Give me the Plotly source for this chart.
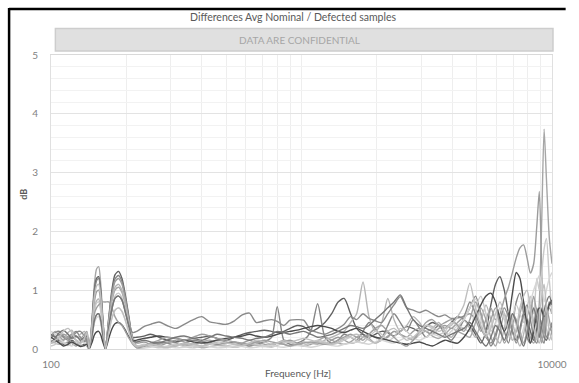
import plotly.graph_objects as go

# Frequency grid (Hz) shared by all sample curves
freq_hz = [
    100, 104, 108, 112, 117, 121, 126, 131, 136, 139, 142, 146, 149, 152, 155, 158, 161, 165, 170, 175, 180, 186, 192, 198, 205, 212, 220,
    235, 250, 270, 290, 315, 340, 370, 400, 430, 460, 500, 540, 580, 620, 660, 710, 760, 800, 850, 900, 960, 1020, 1090, 1160, 1240,
    1320, 1400, 1480, 1570, 1660, 1760, 1860, 1970, 2090, 2210, 2340, 2480, 2630, 2790, 2960, 3140, 3330, 3530, 3740, 3960, 4200, 4450,
    4700, 4950, 5200, 5450, 5700, 5950, 6200, 6450, 6700, 6950, 7200, 7450, 7700, 7950, 8200, 8450, 8700, 8900, 9100, 9300, 9500, 9750, 10000,
]

# Difference in dB for each defected sample
db_s01 = [
    0.2, 0.22, 0.15, 0.1, 0.12, 0.2, 0.15, 0.1, 0.15, 0.1, 0.0, 0.55, 1.1, 1.36, 1.4, 1.1, 0.55, 0.0, 0.42, 0.8, 1.0, 1.05, 0.96, 0.75, 0.42, 0.16, 0.05,
    0.05, 0.1, 0.08, 0.12, 0.1, 0.05, 0.08, 0.12, 0.15, 0.1, 0.06, 0.04, 0.08, 0.1, 0.12, 0.08, 0.05, 0.1, 0.15, 0.12, 0.08, 0.06, 0.1, 0.14,
    0.2, 0.15, 0.1, 0.08, 0.12, 0.2, 0.25, 0.18, 0.1, 0.15, 0.22, 0.3, 0.25, 0.2, 0.15, 0.25, 0.3, 0.22, 0.18, 0.25, 0.35, 0.3, 0.25,
    0.2, 0.45, 0.7, 0.5, 0.2, 0.05, 0.3, 0.6, 0.4, 0.15, 0.3, 0.6, 0.8, 0.5, 0.2, 0.1, 0.3, 0.8, 2.2, 3.74, 2.9, 1.9, 1.45,
]
db_s02 = [
    0.25, 0.2, 0.12, 0.08, 0.1, 0.15, 0.1, 0.05, 0.08, 0.05, 0.0, 0.5, 1.0, 1.2, 1.23, 0.98, 0.5, 0.0, 0.53, 1.0, 1.26, 1.32, 1.2, 0.92, 0.53, 0.2, 0.2,
    0.22, 0.25, 0.2, 0.15, 0.12, 0.15, 0.18, 0.2, 0.22, 0.18, 0.15, 0.2, 0.25, 0.28, 0.3, 0.32, 0.3, 0.28, 0.3, 0.35, 0.4, 0.38, 0.3, 0.35,
    0.45, 0.6, 0.8, 0.86, 0.6, 0.35, 0.25, 0.2, 0.25, 0.3, 0.28, 0.22, 0.3, 0.38, 0.35, 0.3, 0.38, 0.45, 0.4, 0.35, 0.45, 0.55, 0.5,
    0.4, 0.25, 0.1, 0.3, 0.75, 1.1, 1.23, 1.0, 0.6, 0.3, 0.15, 0.35, 0.6, 0.5, 0.3, 0.15, 0.35, 0.55, 0.4, 0.2, 0.15, 0.3, 0.4,
]
db_s03 = [
    0.18, 0.28, 0.3, 0.22, 0.18, 0.25, 0.3, 0.2, 0.12, 0.25, 0.0, 0.48, 0.96, 1.16, 1.2, 0.96, 0.48, 0.0, 0.5, 0.94, 1.19, 1.25, 1.15, 0.88, 0.5, 0.18, 0.05,
    0.05, 0.08, 0.12, 0.1, 0.06, 0.1, 0.15, 0.12, 0.1, 0.08, 0.1, 0.12, 0.08, 0.05, 0.08, 0.12, 0.2, 0.72, 0.15, 0.08, 0.1, 0.15, 0.3, 0.77,
    0.2, 0.1, 0.15, 0.25, 0.2, 0.15, 0.3, 0.45, 0.35, 0.2, 0.4, 0.6, 0.45, 0.3, 0.5, 0.35, 0.2, 0.3, 0.4, 0.25, 0.15, 0.3, 0.5,
    0.7, 0.9, 0.6, 0.3, 0.05, 0.2, 0.45, 0.3, 0.1, 0.4, 0.8, 0.95, 0.6, 0.2, 0.1, 0.4, 0.7, 0.5, 0.2, 0.1, 0.5, 0.8, 0.7,
]
db_s04 = [
    0.1, 0.12, 0.2, 0.25, 0.2, 0.1, 0.05, 0.12, 0.2, 0.12, 0.0, 0.4, 0.8, 0.97, 1.0, 0.8, 0.4, 0.0, 0.48, 0.9, 1.14, 1.2, 1.1, 0.84, 0.48, 0.18, 0.1,
    0.12, 0.08, 0.05, 0.1, 0.15, 0.12, 0.08, 0.05, 0.1, 0.15, 0.12, 0.08, 0.1, 0.15, 0.1, 0.05, 0.08, 0.1, 0.12, 0.15, 0.1, 0.05, 0.08, 0.12,
    0.1, 0.15, 0.2, 0.15, 0.1, 0.12, 0.2, 0.25, 0.2, 0.15, 0.2, 0.3, 0.25, 0.2, 0.3, 0.35, 0.3, 0.25, 0.35, 0.4, 0.35, 0.45, 0.55,
    0.6, 0.5, 0.3, 0.5, 0.7, 0.5, 0.6, 0.85, 1.05, 1.3, 1.55, 1.72, 1.77, 1.55, 1.29, 1.45, 2.1, 2.68, 1.3, 0.25, 0.5, 0.7, 0.6,
]
db_s05 = [
    0.15, 0.1, 0.08, 0.15, 0.28, 0.32, 0.2, 0.25, 0.3, 0.2, 0.0, 0.34, 0.68, 0.82, 0.85, 0.68, 0.34, 0.0, 0.44, 0.82, 1.05, 1.1, 1.0, 0.77, 0.44, 0.16, 0.02,
    0.02, 0.05, 0.03, 0.02, 0.05, 0.08, 0.05, 0.02, 0.04, 0.06, 0.05, 0.03, 0.05, 0.08, 0.06, 0.04, 0.06, 0.1, 0.08, 0.05, 0.08, 0.12, 0.1, 0.08,
    0.15, 0.2, 0.25, 0.3, 0.45, 0.6, 1.14, 0.55, 0.3, 0.45, 0.86, 0.5, 0.3, 0.4, 0.55, 0.45, 0.3, 0.35, 0.45, 0.3, 0.2, 0.35, 0.5,
    0.35, 0.2, 0.45, 0.75, 0.5, 0.2, 0.1, 0.35, 0.65, 0.45, 0.2, 0.05, 0.25, 0.55, 0.75, 0.45, 0.2, 0.1, 0.3, 0.6, 0.35, 0.15, 0.3,
]
db_s06 = [
    0.05, 0.08, 0.12, 0.1, 0.06, 0.1, 0.12, 0.08, 0.05, 0.1, 0.0, 0.32, 0.64, 0.78, 0.8, 0.64, 0.32, 0.0, 0.38, 0.71, 0.9, 0.95, 0.87, 0.66, 0.38, 0.14, 0.05,
    0.08, 0.05, 0.02, 0.05, 0.08, 0.04, 0.02, 0.05, 0.08, 0.1, 0.06, 0.03, 0.06, 0.1, 0.08, 0.05, 0.03, 0.06, 0.1, 0.12, 0.08, 0.05, 0.1, 0.15,
    0.12, 0.08, 0.1, 0.15, 0.2, 0.15, 0.1, 0.2, 0.3, 0.25, 0.15, 0.2, 0.35, 0.3, 0.2, 0.25, 0.4, 0.35, 0.25, 0.3, 0.45, 0.4, 0.35,
    0.3, 0.7, 0.9, 0.6, 0.3, 0.45, 0.7, 0.5, 0.3, 0.5, 0.75, 0.6, 0.45, 0.7, 0.9, 0.6, 1.2, 1.0, 1.3, 1.7, 1.88, 1.2, 0.6,
]
db_s07 = [
    0.12, 0.18, 0.25, 0.2, 0.15, 0.2, 0.28, 0.3, 0.22, 0.15, 0.02, 0.24, 0.48, 0.58, 0.6, 0.48, 0.24, 0.02, 0.36, 0.68, 0.86, 0.9, 0.83, 0.63, 0.4, 0.28, 0.3,
    0.38, 0.42, 0.46, 0.4, 0.35, 0.42, 0.5, 0.55, 0.46, 0.44, 0.42, 0.48, 0.58, 0.61, 0.45, 0.48, 0.5, 0.47, 0.4, 0.49, 0.5, 0.49, 0.32, 0.28,
    0.25, 0.3, 0.35, 0.42, 0.55, 0.5, 0.6, 0.52, 0.48, 0.45, 0.6, 0.75, 0.89, 0.7, 0.66, 0.62, 0.66, 0.6, 0.55, 0.58, 0.52, 0.53, 0.56,
    0.8, 0.6, 0.35, 0.2, 0.1, 0.25, 0.5, 0.7, 0.55, 0.3, 0.1, 0.3, 0.6, 0.75, 0.5, 0.2, 0.1, 0.4, 0.7, 0.5, 0.2, 0.3, 0.45,
]
db_s08 = [
    0.3, 0.25, 0.18, 0.12, 0.08, 0.05, 0.1, 0.15, 0.1, 0.05, 0.0, 0.22, 0.44, 0.53, 0.55, 0.44, 0.22, 0.0, 0.28, 0.52, 0.66, 0.7, 0.64, 0.49, 0.28, 0.1, 0.03,
    0.02, 0.03, 0.05, 0.04, 0.02, 0.03, 0.05, 0.06, 0.04, 0.02, 0.03, 0.05, 0.04, 0.02, 0.03, 0.05, 0.06, 0.04, 0.03, 0.05, 0.06, 0.05, 0.03, 0.05,
    0.08, 0.06, 0.05, 0.08, 0.1, 0.12, 0.1, 0.08, 0.12, 0.15, 0.12, 0.1, 0.15, 0.2, 0.18, 0.15, 0.2, 0.25, 0.22, 0.2, 0.3, 0.4, 0.5,
    0.7, 0.85, 0.5, 0.25, 0.4, 0.6, 0.35, 0.15, 0.3, 0.55, 0.4, 0.2, 0.35, 0.6, 0.8, 1.0, 1.15, 1.25, 1.1, 0.8, 1.0, 1.2, 1.3,
]
db_s09 = [
    0.2, 0.15, 0.1, 0.05, 0.08, 0.12, 0.08, 0.04, 0.06, 0.08, 0.0, 0.12, 0.24, 0.29, 0.3, 0.24, 0.12, 0.0, 0.18, 0.34, 0.43, 0.45, 0.41, 0.32, 0.2, 0.14, 0.15,
    0.18, 0.2, 0.22, 0.2, 0.18, 0.15, 0.12, 0.1, 0.12, 0.15, 0.18, 0.2, 0.22, 0.25, 0.22, 0.2, 0.22, 0.25, 0.28, 0.3, 0.32, 0.35, 0.38, 0.4,
    0.38, 0.35, 0.3, 0.28, 0.32, 0.35, 0.3, 0.25, 0.2, 0.18, 0.15, 0.12, 0.1, 0.08, 0.1, 0.12, 0.08, 0.05, 0.1, 0.15, 0.12, 0.1, 0.2,
    0.35, 0.55, 0.75, 0.9, 0.95, 0.8, 0.5, 0.3, 0.5, 0.95, 1.3, 1.2, 0.8, 0.4, 0.1, 0.3, 0.6, 0.7, 0.65, 0.55, 0.6, 0.75, 0.83,
]
db_s10 = [
    0.22, 0.3, 0.22, 0.15, 0.2, 0.25, 0.22, 0.18, 0.25, 0.3, 0.1, 0.35, 0.6, 0.7, 0.75, 0.78, 0.8, 0.8, 0.8, 0.7, 0.55, 0.45, 0.4, 0.3, 0.18, 0.08, 0.02,
    0.05, 0.1, 0.15, 0.2, 0.18, 0.15, 0.2, 0.25, 0.22, 0.18, 0.15, 0.12, 0.1, 0.08, 0.12, 0.15, 0.12, 0.1, 0.08, 0.05, 0.08, 0.1, 0.12, 0.1,
    0.08, 0.1, 0.15, 0.2, 0.25, 0.2, 0.15, 0.25, 0.35, 0.4, 0.3, 0.2, 0.1, 0.05, 0.15, 0.3, 0.45, 0.5, 0.4, 0.45, 0.5, 0.4, 0.3,
    0.5, 0.8, 0.6, 0.3, 0.5, 0.7, 0.4, 0.1, 0.25, 0.6, 0.5, 0.3, 0.1, 0.3, 0.6, 0.9, 0.6, 0.3, 0.1, 0.35, 0.7, 0.5, 0.25,
]
db_s11 = [
    0.25, 0.2, 0.28, 0.32, 0.25, 0.18, 0.22, 0.15, 0.2, 0.22, 0.0, 0.24, 0.48, 0.58, 0.6, 0.48, 0.24, 0.0, 0.36, 0.68, 0.86, 0.9, 0.83, 0.63, 0.36, 0.14, 0.12,
    0.15, 0.12, 0.1, 0.15, 0.2, 0.22, 0.18, 0.15, 0.2, 0.25, 0.22, 0.2, 0.18, 0.15, 0.18, 0.2, 0.25, 0.3, 0.28, 0.25, 0.28, 0.3, 0.25, 0.2,
    0.22, 0.25, 0.3, 0.35, 0.4, 0.38, 0.35, 0.4, 0.5, 0.6, 0.7, 0.8, 0.92, 0.7, 0.5, 0.4, 0.35, 0.3, 0.25, 0.2, 0.25, 0.3, 0.35,
    0.45, 0.3, 0.15, 0.05, 0.2, 0.4, 0.3, 0.15, 0.35, 0.6, 0.45, 0.2, 0.05, 0.25, 0.5, 0.7, 0.45, 0.2, 0.4, 0.65, 0.8, 0.9, 0.75,
]
db_s12 = [
    0.1, 0.15, 0.2, 0.3, 0.35, 0.28, 0.15, 0.1, 0.18, 0.28, 0.0, 0.44, 0.88, 1.07, 1.1, 0.88, 0.44, 0.0, 0.28, 0.52, 0.66, 0.7, 0.64, 0.49, 0.28, 0.1, 0.04,
    0.06, 0.08, 0.05, 0.03, 0.06, 0.1, 0.08, 0.05, 0.08, 0.12, 0.1, 0.08, 0.06, 0.1, 0.15, 0.12, 0.08, 0.1, 0.14, 0.12, 0.15, 0.18, 0.15, 0.12,
    0.1, 0.08, 0.12, 0.18, 0.22, 0.25, 0.2, 0.15, 0.1, 0.18, 0.3, 0.35, 0.25, 0.15, 0.2, 0.3, 0.4, 0.38, 0.3, 0.35, 0.4, 0.55, 0.75,
    1.12, 0.7, 0.4, 0.2, 0.35, 0.6, 0.8, 0.6, 0.3, 0.15, 0.35, 0.7, 0.9, 1.0, 0.7, 0.35, 0.15, 0.5, 0.9, 1.1, 0.7, 0.3, 0.15,
]

series_db = [db_s01, db_s02, db_s03, db_s04, db_s05, db_s06, db_s07, db_s08, db_s09, db_s10, db_s11, db_s12]
series_colors = ["#a6a6a6", "#606060", "#858585", "#9c9c9c", "#b5b5b5", "#c9c9c9",
                 "#8a8a8a", "#d5d5d5", "#4a4a4a", "#a0a0a0", "#767676", "#bfbfbf"]

y_ticks = [0, 1, 2, 3, 4, 5]
x_ticks = [100, 10000]
x_minor = [200, 300, 400, 500, 600, 700, 800, 900, 1000,
           2000, 3000, 4000, 5000, 6000, 7000, 8000, 9000]

W, H = 579, 383
L, R, T, B = 51, 565, 55, 349  # plot area in pixels


def px_x(px):
    return (px - L) / (R - L)


def px_y(py):
    return (B - py) / (B - T)


FONT = "Lato, 'Open Sans', sans-serif"

fig = go.Figure()
for vals, col in zip(series_db, series_colors):
    assert len(vals) == len(freq_hz)
    fig.add_trace(go.Scatter(
        x=freq_hz, y=vals, mode="lines",
        line=dict(color=col, width=1.4, shape="spline", smoothing=0.7),
        showlegend=False, hoverinfo="skip",
    ))

fig.update_layout(
    width=W, height=H,
    margin=dict(l=L, r=W - R, t=T, b=H - B, pad=0),
    paper_bgcolor="white", plot_bgcolor="white",
    font=dict(family=FONT, color="#595959"),
    showlegend=False,
    xaxis=dict(
        type="log", range=[2, 4],
        tickmode="array", tickvals=x_ticks, ticktext=[str(v) for v in x_ticks],
        tickfont=dict(size=10, color="#7f7f7f"), ticks="", ticklabelstandoff=6,
        ticklabeloverflow="allow",
        showgrid=True, gridcolor="#e8e8e8", gridwidth=1,
        minor=dict(tickmode="array", tickvals=x_minor, showgrid=True,
                   gridcolor="#eeeeee", gridwidth=1, ticks=""),
        showline=True, linecolor="#d9d9d9", linewidth=1, mirror=True,
        zeroline=False,
    ),
    yaxis=dict(
        range=[0, 5], tickmode="array", tickvals=y_ticks,
        tickfont=dict(size=10, color="#7f7f7f"), ticks="", ticklabelstandoff=10,
        showgrid=True, gridcolor="#e3e3e3", gridwidth=1,
        minor=dict(dtick=0.2, showgrid=True, gridcolor="#f2f2f2", gridwidth=1, ticks=""),
        showline=True, linecolor="#e0e0e0", linewidth=1, mirror=True,
        zeroline=False,
    ),
)

# Outer frame (top and left edges)
fig.add_shape(type="line", xref="paper", yref="paper",
              x0=px_x(8), x1=px_x(579), y0=px_y(9), y1=px_y(9),
              line=dict(color="black", width=2.5))
fig.add_shape(type="line", xref="paper", yref="paper",
              x0=px_x(8), x1=px_x(8), y0=px_y(8), y1=px_y(383),
              line=dict(color="black", width=2.5))

# Confidentiality banner
fig.add_shape(type="rect", xref="paper", yref="paper",
              x0=px_x(55.5), x1=px_x(566), y0=px_y(51), y1=px_y(28.5),
              fillcolor="#e0e0e0", line=dict(color="#cdcdcd", width=1.5))

fig.add_annotation(text="DATA ARE CONFIDENTIAL", xref="paper", yref="paper",
                   x=px_x(306), y=px_y(40), showarrow=False,
                   xanchor="center", yanchor="middle",
                   font=dict(size=10, color="#a6a6a6", family=FONT))
fig.add_annotation(text="Differences Avg Nominal / Defected samples", xref="paper", yref="paper",
                   x=px_x(300), y=px_y(17), showarrow=False,
                   xanchor="center", yanchor="middle",
                   font=dict(size=10.5, color="#595959", family=FONT))

# Axis titles
fig.add_annotation(text="<b>dB</b>", xref="paper", yref="paper",
                   x=px_x(22), y=px_y(194), showarrow=False, textangle=-90,
                   xanchor="center", yanchor="middle",
                   font=dict(size=9, color="#595959", family=FONT))
fig.add_annotation(text="Frequency [Hz]", xref="paper", yref="paper",
                   x=px_x(304), y=px_y(373), showarrow=False,
                   xanchor="center", yanchor="middle",
                   font=dict(size=10, color="#595959", family=FONT))

fig.write_html("out.html")
